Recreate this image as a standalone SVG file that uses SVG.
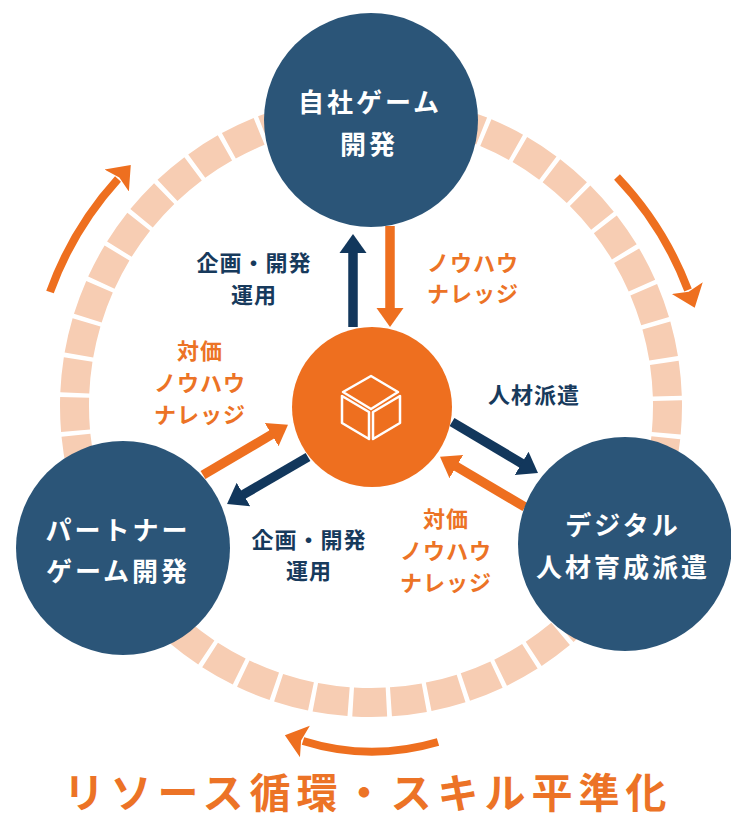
<svg xmlns="http://www.w3.org/2000/svg" width="731" height="821" viewBox="0 0 731 821">
<style>
text{font-family:"Noto Sans CJK JP","Noto Sans",sans-serif;text-anchor:middle}
.n{fill:#2b5578}
.nt{fill:#fff;font-size:26px;font-weight:700;letter-spacing:3px}
.o{font-size:22px;font-weight:700;fill:#ec7326;letter-spacing:1px}
.d{font-size:22px;font-weight:700;fill:#173a5c;letter-spacing:1px}
.sd{stroke:#12375c;stroke-width:9.5;fill:none}
.so{stroke:#ee6f1f;stroke-width:9.5;fill:none}
.c{stroke:#ee6f1f;stroke-width:8;fill:none}
</style>
<defs>
<marker id="hd" markerUnits="userSpaceOnUse" markerWidth="24" markerHeight="30" refX="1" refY="15" orient="auto"><path d="M0 1.5L19 15L0 28.5Z" fill="#12375c"/></marker>
<marker id="ho" markerUnits="userSpaceOnUse" markerWidth="24" markerHeight="30" refX="1" refY="15" orient="auto"><path d="M0 1.5L19 15L0 28.5Z" fill="#ee6f1f"/></marker>
<marker id="hc" markerUnits="userSpaceOnUse" markerWidth="26" markerHeight="36" refX="2" refY="18" orient="auto"><path d="M0 1.5L21 18L0 34.5L4 18Z" fill="#ee6f1f"/></marker>
</defs>
<g id="ring"><circle cx="371" cy="406" r="296.5" fill="none" stroke="#f7cdb3" stroke-width="29" stroke-dasharray="33.5 4.52" stroke-dashoffset="-31.8"/></g>
<g id="connectors">
<path class="c" marker-end="url(#hc)" d="M50 292A339 339 0 0 1 118 179"/>
<path class="c" marker-end="url(#hc)" d="M617 177A336 336 0 0 1 688 290"/>
<path class="c" marker-end="url(#hc)" d="M438 742Q370 762 303 741"/>
<path class="sd" marker-end="url(#hd)" d="M353 327V252"/>
<path class="so" marker-end="url(#ho)" d="M390 226V309"/>
<path class="sd" marker-end="url(#hd)" d="M452 422L522.5 463.8"/>
<path class="so" marker-end="url(#ho)" d="M525 507L455.5 466"/>
<path class="sd" marker-end="url(#hd)" d="M308 457L242.6 495"/>
<path class="so" marker-end="url(#ho)" d="M203 475L272.5 434"/>
</g>
<g id="node-top"><circle class="n" cx="371" cy="120" r="107"/><text class="nt" x="370" y="112">自社ゲーム</text><text class="nt" x="369" y="154">開発</text></g>
<g id="node-left"><circle class="n" cx="123" cy="548" r="107"/><text class="nt" x="118" y="540">パートナー</text><text class="nt" x="118" y="581">ゲーム開発</text></g>
<g id="node-right"><circle class="n" cx="625" cy="544" r="107"/><text class="nt" x="623" y="535">デジタル</text><text class="nt" x="623" y="577">人材育成派遣</text></g>
<g id="node-center"><circle cx="372" cy="407" r="80" fill="#ee6f1f"/>
<g fill="none" stroke="#fff" stroke-width="2.5" stroke-linejoin="round"><path d="M371 376L398 392L371 409L343 392Z"/><path d="M342 396V423L369 439V412Z"/><path d="M400 396V423L373 439V412Z"/></g></g>
<g id="labels">
<text class="d" x="254" y="271">企画・開発</text><text class="d" x="254" y="303">運用</text>
<text class="o" x="473" y="271">ノウハウ</text><text class="o" x="473" y="302">ナレッジ</text>
<text class="o" x="200" y="359">対価</text><text class="o" x="200" y="391">ノウハウ</text><text class="o" x="200" y="423">ナレッジ</text>
<text class="d" x="534" y="403">人材派遣</text>
<text class="d" x="309" y="548">企画・開発</text><text class="d" x="309" y="579">運用</text>
<text class="o" x="446" y="527">対価</text><text class="o" x="446" y="559">ノウハウ</text><text class="o" x="446" y="591">ナレッジ</text>
</g>
<text id="title" x="368" y="808" font-size="41" font-weight="700" fill="#ec7326" letter-spacing="6">リソース循環・スキル平準化</text>
</svg>
